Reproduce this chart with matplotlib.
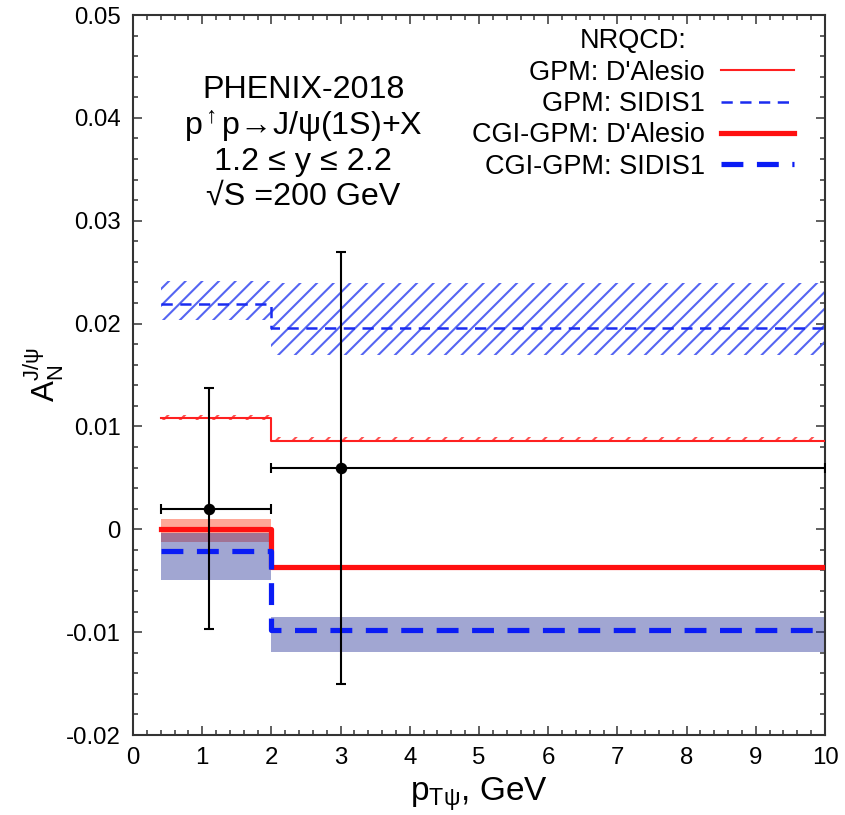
import numpy as np
import matplotlib
matplotlib.use("Agg")
import matplotlib.pyplot as plt
from matplotlib.ticker import MultipleLocator

plt.rcParams["font.family"] = ["Liberation Sans", "DejaVu Sans"]
plt.rcParams["mathtext.fontset"] = "custom"
plt.rcParams["mathtext.rm"] = "Liberation Sans"
plt.rcParams["mathtext.it"] = "Liberation Sans"
plt.rcParams["mathtext.default"] = "regular"
plt.rcParams["hatch.linewidth"] = 1.0

# pT bins
bin_edges = [0.4, 2.0, 10.0]

# GPM: D'Alesio (thin red, narrow hatched band)
gpm_dal = [0.0108, 0.0086]
gpm_dal_lo = [0.0106, 0.0085]
gpm_dal_hi = [0.0111, 0.0090]

# GPM: SIDIS1 (thin blue dashed, hatched band)
gpm_sid = [0.0219, 0.0196]
gpm_sid_lo = [0.0203, 0.0169]
gpm_sid_hi = [0.0241, 0.0239]

# CGI-GPM: D'Alesio (thick red, filled band)
cgi_dal = [0.0000, -0.0037]
cgi_dal_lo = [-0.0012, -0.0039]
cgi_dal_hi = [0.0010, -0.0035]

# CGI-GPM: SIDIS1 (thick blue dashed, filled band)
cgi_sid = [-0.0021, -0.0098]
cgi_sid_lo = [-0.0049, -0.0119]
cgi_sid_hi = [-0.0004, -0.0085]

# PHENIX-2018 data
data_x = [1.1, 3.0]
data_y = [0.002, 0.006]
data_xlo = [0.4, 2.0]
data_xhi = [2.0, 10.0]
data_ylo = [-0.0097, -0.015]
data_yhi = [0.0137, 0.027]


def stepped(vals):
    return list(vals) + [vals[-1]]


fig = plt.figure(figsize=(845 / 150, 815 / 150), dpi=150)
ax = fig.add_axes([133 / 845, 1 - 735 / 815, 692 / 845, 720 / 815])

# bands
ax.fill_between(bin_edges, stepped(cgi_dal_lo), stepped(cgi_dal_hi), step="post",
                color="#ffa797", lw=0, zorder=1)
ax.fill_between(bin_edges, stepped(cgi_sid_lo), stepped(cgi_sid_hi), step="post",
                color=(0.12, 0.17, 0.58), alpha=0.42, lw=0, zorder=2)
ax.fill_between(bin_edges, stepped(gpm_sid_lo), stepped(gpm_sid_hi), step="post",
                facecolor="none", edgecolor="#5565f2", hatch="///", lw=0, zorder=2)
ax.fill_between(bin_edges, stepped(gpm_dal_lo), stepped(gpm_dal_hi), step="post",
                facecolor="none", edgecolor="#ff5050", hatch="///", lw=0, zorder=2)

# central lines
ax.step(bin_edges, stepped(gpm_dal), where="post", color="#ff2020", lw=1.0,
        label="GPM: D'Alesio", zorder=3)
ax.step(bin_edges, stepped(gpm_sid), where="post", color="#1a2cf0", lw=1.2,
        dashes=(4.5, 3), label="GPM: SIDIS1", zorder=3)
ax.step(bin_edges, stepped(cgi_dal), where="post", color="#ff1010", lw=2.5,
        label="CGI-GPM: D'Alesio", zorder=4)
ax.step(bin_edges, stepped(cgi_sid), where="post", color="#0a1cf5", lw=2.5,
        dashes=(4.2, 2.6), label="CGI-GPM: SIDIS1", zorder=4)

# data points
xerr = [np.array(data_x) - np.array(data_xlo), np.array(data_xhi) - np.array(data_x)]
yerr = [np.array(data_y) - np.array(data_ylo), np.array(data_yhi) - np.array(data_y)]
ax.errorbar(data_x, data_y, xerr=xerr, yerr=yerr, fmt="o", color="black",
            ms=4.5, elinewidth=1.0, capsize=2.5, capthick=1.0, zorder=6)

ax.set_xlim(0, 10)
ax.set_ylim(-0.02, 0.05)
ax.xaxis.set_major_locator(MultipleLocator(1))
ax.xaxis.set_minor_locator(MultipleLocator(0.2))
ax.yaxis.set_minor_locator(MultipleLocator(0.002))
ax.set_yticks(np.arange(-0.02, 0.051, 0.01))
ax.set_yticklabels(["-0.02", "-0.01", "0", "0.01", "0.02", "0.03", "0.04", "0.05"])
ax.tick_params(which="both", direction="in", top=True, right=True, width=0.8,
               color="#444444")
ax.tick_params(which="major", length=4.5, labelsize=11.5, pad=6)
ax.tick_params(which="minor", length=2.2)
for s in ax.spines.values():
    s.set_linewidth(1.0)
    s.set_color("#333333")

ax.set_xlabel(r"p$_{T\psi}$, GeV", fontsize=16, labelpad=3)
ax.set_ylabel(r"A$_N^{J/\psi}$", fontsize=15)
ax.yaxis.set_label_coords(-0.097, 0.5)

# annotation block
info = ["PHENIX-2018", r"p$^{\uparrow}$p→J/ψ(1S)+X", "1.2 ≤ y ≤ 2.2", "√S =200 GeV"]
info_y = [0.885, 0.833, 0.785, 0.736]
for txt, yy in zip(info, info_y):
    ax.text(0.246, yy, txt, transform=ax.transAxes, ha="center", va="baseline",
            fontsize=15.5)

leg = ax.legend(loc="upper right", frameon=False, markerfirst=False,
                title="NRQCD:", title_fontsize=13, fontsize=13,
                handlelength=2.7, handletextpad=0.6, labelspacing=0.2,
                borderaxespad=0.3, bbox_to_anchor=(0.983, 1.008))

fig.savefig("out.png", dpi=150)
